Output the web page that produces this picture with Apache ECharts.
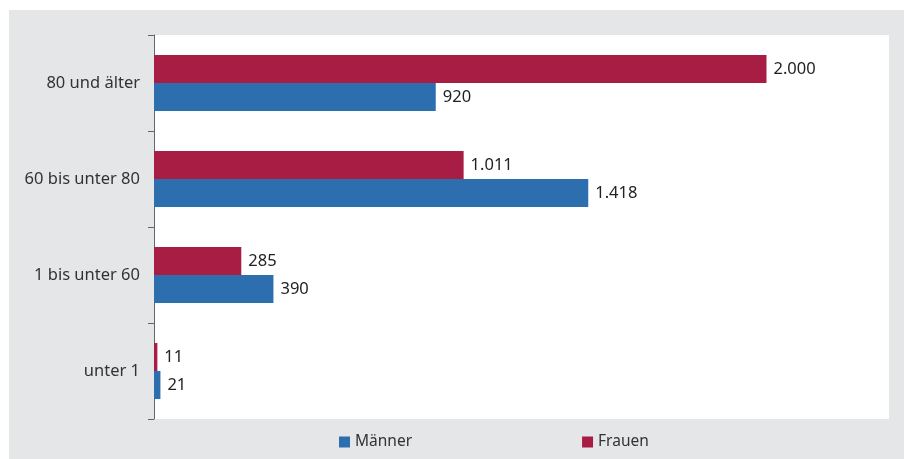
<!DOCTYPE html>
<html>
<head>
<meta charset="utf-8">
<script src="https://cdn.jsdelivr.net/npm/echarts@6/dist/echarts.min.js"></script>
<style>
html,body{margin:0;padding:0;background:#fff;}
#bg{position:absolute;left:9px;top:10px;width:895px;height:449px;background:#e5e6e8;}
#chart{position:absolute;left:0;top:0;width:904px;height:459px;}
</style>
</head>
<body>
<div id="bg"></div>
<div id="chart"></div>
<script>
const categories = ['unter 1', '1 bis unter 60', '60 bis unter 80', '80 und älter'];
const maenner = [21, 390, 1418, 920];
const frauen = [11, 285, 1011, 2000];
const seriesNames = ['Männer', 'Frauen'];

function fmt(v) {
  return String(v).replace(/\B(?=(\d{3})+(?!\d))/g, '.');
}

const font = '"Noto Sans", sans-serif';
const chart = echarts.init(document.getElementById('chart'), null, {renderer: 'canvas'});
const labelCfg = {
  show: true, position: 'right', distance: 7,
  color: '#222', fontSize: 16.5, fontFamily: font,
  formatter: p => fmt(p.value)
};
chart.setOption({
  backgroundColor: 'transparent',
  animation: false,
  grid: {left: 154, right: 15, top: 35, bottom: 40, show: true, backgroundColor: '#ffffff', borderWidth: 0},
  legend: {
    data: seriesNames, left: 334, bottom: 4, itemWidth: 11, itemHeight: 11, itemGap: 170,
    icon: 'rect',
    textStyle: {fontSize: 15.5, color: '#333', fontFamily: font}
  },
  xAxis: {type: 'value', min: 0, max: 2400, show: false, splitLine: {show: false}},
  yAxis: {
    type: 'category', data: categories,
    axisLine: {lineStyle: {color: '#666', width: 1}},
    axisTick: {show: true, length: 6, lineStyle: {color: '#666'}},
    axisLabel: {fontSize: 16.5, color: '#333', fontFamily: font, margin: 14}
  },
  series: [
    {name: seriesNames[1], type: 'bar', data: frauen, barWidth: 28, barGap: '0%', itemStyle: {color: '#a71d44'}, label: labelCfg},
    {name: seriesNames[0], type: 'bar', data: maenner, barWidth: 28, barGap: '0%', itemStyle: {color: '#2d6eae'}, label: labelCfg}
  ]
});
</script>
</body>
</html>
